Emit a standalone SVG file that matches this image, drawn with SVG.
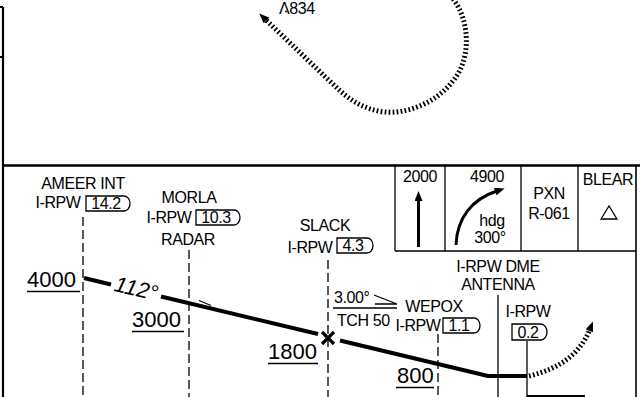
<svg xmlns="http://www.w3.org/2000/svg" width="640" height="397" viewBox="0 0 640 397">
<defs>
<style>
.t{font-family:"Liberation Sans",Arial,sans-serif;font-size:16px;letter-spacing:-0.4px;fill:#000}
.m{text-anchor:middle}
.n{font-family:"Liberation Sans",Arial,sans-serif;font-size:22px;fill:#000}
.frame{stroke:#000;fill:none}
.thin{stroke:#000;stroke-width:1.3;fill:none}
.dash{stroke:#000;stroke-width:1.3;fill:none;stroke-dasharray:9 4}
.tag{stroke:#000;stroke-width:1.3;fill:#fff}
.dots{stroke:#000;stroke-width:5;fill:none;stroke-dasharray:1.7 2.3}
.course{stroke:#000;stroke-width:4;fill:none;stroke-linejoin:round}
.ul{stroke:#000;stroke-width:1.3}
</style>
<marker id="ah" viewBox="0 0 10 8" refX="2" refY="4" markerWidth="11" markerHeight="8" markerUnits="userSpaceOnUse" orient="auto">
<path d="M0 0 L10 4 L0 8 Z" fill="#000"/>
</marker>
<marker id="ah2" viewBox="0 0 10 8" refX="2" refY="4" markerWidth="10" markerHeight="8" markerUnits="userSpaceOnUse" orient="auto">
<path d="M0 0 L10 4 L0 8 Z" fill="#000"/>
</marker>
</defs>
<rect width="640" height="397" fill="#fff"/>

<g id="frame">
<path class="frame" stroke-width="2.2" d="M3 7 V397 M0 7 H3 M0 57 H3"/>
<path class="frame" stroke-width="2.6" d="M2 165.5 H640"/>
<path class="frame" stroke-width="1.6" d="M636 165 V397"/>
<path class="frame" stroke-width="2.2" d="M527 396 H585"/>
</g>

<g id="plan-view">
<path class="dots" d="M453 -1 C470 20 472 60 452 82 C435 104 405 114 385 112 C365 110 350 100 338 89 L265 19" marker-end="url(#ah)"/>
<g id="obstacle">
<text class="t" x="279" y="14" font-size="13" letter-spacing="0">Λ834</text>
<circle cx="286" cy="11.5" r="0.9" fill="#000"/>
</g>
</g>

<g id="minimums-table">
<path class="thin" d="M395 165 V251 M445 165 V251 M521 165 V251 M578 165 V251 M395 251 H636"/>
<g id="cell-2000">
<text class="t m" x="420" y="182">2000</text>
<path d="M418.5 247 V199" stroke="#000" stroke-width="3" fill="none" marker-end="url(#ah2)"/>
</g>
<g id="cell-4900">
<text class="t m" x="487" y="182">4900</text>
<path d="M456 245 C457 218 472 199 497 191" stroke="#000" stroke-width="3" fill="none" marker-end="url(#ah2)"/>
<text class="t m" x="492" y="226">hdg</text>
<text class="t m" x="490" y="243">300°</text>
</g>
<g id="cell-pxn">
<text class="t m" x="549" y="199">PXN</text>
<text class="t m" x="549" y="219">R-061</text>
</g>
<g id="cell-blear">
<text class="t m" x="608" y="185">BLEAR</text>
<path class="thin" d="M609 206 L601 219 H617 Z"/>
</g>
</g>

<g id="connectors">
<path class="dash" d="M83 217 V397"/>
<path class="dash" d="M189 250 V397"/>
<path class="dash" d="M328 260 V397"/>
<path class="dash" d="M438 334 V397"/>
<path class="thin" d="M498 295 V397"/>
<path class="thin" d="M527 341 V397"/>
<path class="course" d="M84 278 L111 284.5 M161 296.5 L318 334 M340 340.5 L488 376 H527"/>
<path class="thin" d="M199 300.5 L211 305.5"/>
<path class="dots" d="M529 376 Q576 365 590 329" marker-end="url(#ah)"/>
<path d="M322 332 L334 344 M334 332 L322 344" stroke="#000" stroke-width="3.2"/>
</g>

<g id="ameer">
<text class="t m" x="83" y="189">AMEER INT</text>
<text class="t m" x="58" y="208">I-RPW</text>
<path class="tag" d="M86 196 H124 A6 7.5 0 0 1 124 211 H86 Z"/>
<text class="t m" x="106" y="209">14.2</text>
</g>

<g id="morla">
<text class="t m" x="189" y="203">MORLA</text>
<text class="t m" x="169" y="223">I-RPW</text>
<path class="tag" d="M196 210 H234 A6 7.5 0 0 1 234 225 H196 Z"/>
<text class="t m" x="216" y="223">10.3</text>
<text class="t m" x="188" y="245">RADAR</text>
</g>

<g id="slack">
<text class="t m" x="325" y="231">SLACK</text>
<text class="t m" x="310" y="253">I-RPW</text>
<path class="tag" d="M337 238 H367 A6 7.5 0 0 1 367 253 H337 Z"/>
<text class="t m" x="353" y="251">4.3</text>
</g>

<g id="glideslope">
<text class="t" x="334" y="303">3.00°</text>
<path class="thin" d="M374 295 L397 304 M375 304 H397 M333 308 H397"/>
<text class="t" x="337" y="326">TCH 50</text>
</g>

<g id="wepox">
<text class="t m" x="434" y="312">WEPOX</text>
<text class="t m" x="418" y="331">I-RPW</text>
<path class="tag" d="M443 318 H474 A6 7.5 0 0 1 474 333 H443 Z"/>
<text class="t m" x="459" y="331">1.1</text>
</g>

<g id="dme-antenna">
<text class="t m" x="498" y="272">I-RPW DME</text>
<text class="t m" x="498" y="290">ANTENNA</text>
</g>

<g id="rpw-02">
<text class="t m" x="528" y="317">I-RPW</text>
<path class="tag" d="M512 324 H541 A6 8 0 0 1 541 340 H512 Z"/>
<text class="t m" x="528" y="338">0.2</text>
</g>

<g id="altitudes">
<text class="n" x="27" y="287">4000</text>
<path class="ul" d="M27 291.5 H80"/>
<text class="n" x="132" y="327">3000</text>
<path class="ul" d="M132 331.5 H184"/>
<text class="n" x="268" y="359">1800</text>
<path class="ul" d="M268 363.5 H318"/>
<text class="n" x="397" y="383">800</text>
<path class="ul" d="M396 387.5 H434"/>
<text class="n" x="136" y="296" font-size="21" font-style="italic" text-anchor="middle" transform="rotate(13.5 136 290)">112°</text>
</g>
</svg>
